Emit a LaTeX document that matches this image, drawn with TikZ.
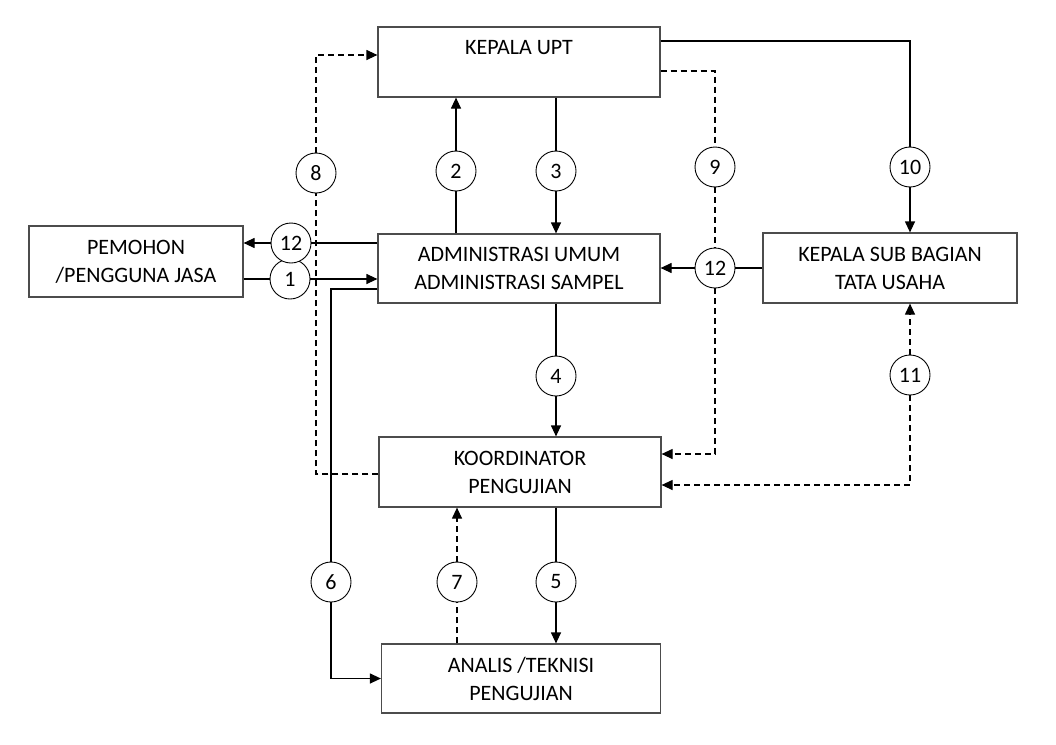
\documentclass[tikz,border=0pt]{standalone}
\usepackage{fontspec}
\setmainfont{Carlito}
\usetikzlibrary{arrows.meta}
\begin{document}
\begin{tikzpicture}[x=1pt,y=-1pt,
  box/.style={draw=black!70, line width=1.2pt, minimum width=282pt, minimum height=70pt, align=center, inner sep=0pt, font=\fontsize{22}{28}\selectfont},
  txt/.style={inner sep=0pt, font=\fontsize{22}{28}\selectfont},
  num/.style={draw, circle, fill=white, minimum size=40pt, inner sep=0pt, line width=0.9pt, font=\fontsize{22}{24}\selectfont},
  ln/.style={line width=1.2pt},
  arr/.style={ln, -{Triangle[length=11pt,width=10pt]}},
  dsh/.style={dash pattern=on 6pt off 4pt}]
\fill[white] (0,0) rectangle (1056,744);
\useasboundingbox (0,0) rectangle (1056,744);

% boxes
\node[box] (kepala) at (519,62) {};
\node[txt] (kepalat) at (519,48) {KEPALA UPT};
\node[box, minimum width=214pt, minimum height=71pt] (pemohon) at (136,261.5) {PEMOHON\\/PENGGUNA JASA};
\node[box, minimum height=69pt] (admin) at (519,268.5) {ADMINISTRASI UMUM\\ADMINISTRASI SAMPEL};
\node[box, minimum width=254pt] (ksb) at (890,268) {KEPALA SUB BAGIAN\\TATA USAHA};
\node[box] (koord) at (520,472) {KOORDINATOR\\PENGUJIAN};
\node[box, minimum width=279pt, minimum height=69pt] (analis) at (521,678.5) {ANALIS /TEKNISI\\PENGUJIAN};

% circles
\node[num] (c1) at (290,279) {1};
\node[num] (c12a) at (291,243) {12};
\node[num] (c2) at (456,171) {2};
\node[num] (c3) at (556,171) {3};
\node[num] (c4) at (556,376) {4};
\node[num] (c5) at (556,582) {5};
\node[num] (c6) at (331,582) {6};
\node[num] (c7) at (457,582) {7};
\node[num] (c8) at (316,173) {8};
\node[num] (c9) at (715,167) {9};
\node[num] (c12b) at (715,268) {12};
\node[num] (c10) at (910,167) {10};
\node[num] (c11) at (910,375) {11};

% 1
\draw[ln] (pemohon.east |- c1) -- (c1);
\draw[arr] (c1) -- (admin.west |- c1);
% 12 left
\draw[ln] (admin.west |- c12a) -- (c12a);
\draw[arr] (c12a) -- (pemohon.east |- c12a);
% 2
\draw[ln] (admin.north -| c2) -- (c2);
\draw[arr] (c2) -- (kepala.south -| c2);
% 3
\draw[ln] (kepala.south -| c3) -- (c3);
\draw[arr] (c3) -- (admin.north -| c3);
% 4
\draw[ln] (admin.south -| c4) -- (c4);
\draw[arr] (c4) -- (koord.north -| c4);
% 5
\draw[ln] (koord.south -| c5) -- (c5);
\draw[arr] (c5) -- (analis.north -| c5);
% 6
\draw[ln] ([yshift=-20.5pt]admin.west) -| (c6);
\draw[arr] (c6) |- (analis.west);
% 7
\draw[ln,dsh] (analis.north -| c7) -- (c7);
\draw[arr,dsh] (c7) -- (koord.south -| c7);
% 8
\draw[ln,dsh] ([yshift=-2pt]koord.west) -| (c8);
\draw[arr,dsh] (c8) |- ([yshift=7pt]kepala.west);
% 9
\draw[ln,dsh] ([yshift=-9pt]kepala.east) -| (c9);
\draw[ln,dsh] (c9) -- (c12b);
\draw[arr,dsh] (c12b) |- ([yshift=18pt]koord.east);
% 12 right
\draw[ln] (ksb.west) -- (c12b);
\draw[arr] (c12b) -- (admin.east |- c12b);
% 10
\draw[ln] ([yshift=21pt]kepala.east) -| (c10);
\draw[arr] (c10) -- (ksb.north -| c10);
% 11
\draw[arr,dsh] (c11) |- ([yshift=-13pt]koord.east);
\draw[arr,dsh] (c11) -- (ksb.south -| c11);
\end{tikzpicture}
\end{document}
